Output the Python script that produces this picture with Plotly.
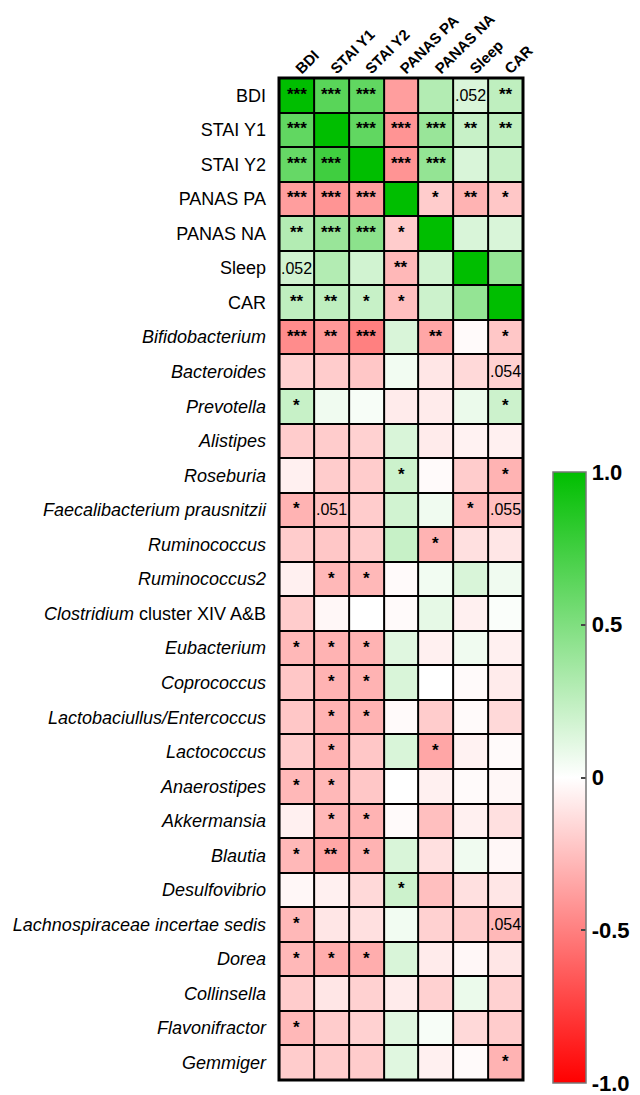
import plotly.graph_objects as go

# column / row names
cols = ['BDI', 'STAI Y1', 'STAI Y2', 'PANAS PA', 'PANAS NA', 'Sleep', 'CAR']
rows = ['BDI', 'STAI Y1', 'STAI Y2', 'PANAS PA', 'PANAS NA', 'Sleep', 'CAR',
        'Bifidobacterium', 'Bacteroides', 'Prevotella', 'Alistipes', 'Roseburia',
        'Faecalibacterium prausnitzii', 'Ruminococcus', 'Ruminococcus2',
        'Clostridium cluster XIV A&B', 'Eubacterium', 'Coprococcus',
        'Lactobaciullus/Entercoccus', 'Lactococcus', 'Anaerostipes', 'Akkermansia',
        'Blautia', 'Desulfovibrio', 'Lachnospiraceae incertae sedis', 'Dorea',
        'Collinsella', 'Flavonifractor', 'Gemmiger']
row_labels = ['BDI', 'STAI Y1', 'STAI Y2', 'PANAS PA', 'PANAS NA', 'Sleep', 'CAR',
              '<i>Bifidobacterium</i>', '<i>Bacteroides</i>', '<i>Prevotella</i>',
              '<i>Alistipes</i>', '<i>Roseburia</i>', '<i>Faecalibacterium prausnitzii</i>',
              '<i>Ruminococcus</i>', '<i>Ruminococcus2</i>',
              '<i>Clostridium</i> cluster XIV A&B', '<i>Eubacterium</i>',
              '<i>Coprococcus</i>', '<i>Lactobaciullus/Entercoccus</i>',
              '<i>Lactococcus</i>', '<i>Anaerostipes</i>', '<i>Akkermansia</i>',
              '<i>Blautia</i>', '<i>Desulfovibrio</i>',
              '<i>Lachnospiraceae incertae sedis</i>', '<i>Dorea</i>',
              '<i>Collinsella</i>', '<i>Flavonifractor</i>', '<i>Gemmiger</i>']

r = [
    [1.00, 0.65, 0.62, -0.38, 0.30, 0.15, 0.25],
    [0.62, 1.00, 0.62, -0.42, 0.40, 0.22, 0.25],
    [0.60, 0.75, 1.00, -0.42, 0.42, 0.15, 0.22],
    [-0.38, -0.42, -0.38, 1.00, -0.20, -0.30, -0.22],
    [0.30, 0.40, 0.45, -0.20, 1.00, 0.15, 0.15],
    [0.18, 0.30, 0.18, -0.28, 0.18, 1.00, 0.42],
    [0.25, 0.25, 0.22, -0.25, 0.20, 0.42, 1.00],
    [-0.45, -0.40, -0.50, 0.15, -0.35, -0.02, -0.22],
    [-0.18, -0.20, -0.22, 0.05, -0.10, -0.15, -0.18],
    [0.22, 0.06, 0.03, -0.08, -0.08, 0.08, 0.20],
    [-0.20, -0.20, -0.18, 0.15, -0.08, -0.05, -0.06],
    [-0.06, -0.20, -0.20, 0.20, -0.02, -0.20, -0.30],
    [-0.30, -0.25, -0.20, 0.18, 0.06, -0.28, -0.25],
    [-0.20, -0.22, -0.20, 0.22, -0.30, -0.12, -0.10],
    [-0.06, -0.28, -0.28, -0.02, 0.05, 0.15, 0.06],
    [-0.20, -0.03, 0.00, -0.02, 0.10, -0.06, 0.02],
    [-0.28, -0.30, -0.30, 0.12, -0.06, 0.06, -0.06],
    [-0.22, -0.30, -0.30, 0.15, 0.00, -0.02, -0.08],
    [-0.22, -0.30, -0.30, -0.02, -0.20, -0.02, -0.15],
    [-0.20, -0.30, -0.22, 0.15, -0.35, -0.05, -0.02],
    [-0.28, -0.28, -0.22, 0.00, -0.06, -0.02, -0.03],
    [-0.06, -0.28, -0.30, -0.02, -0.25, -0.06, -0.12],
    [-0.28, -0.35, -0.30, 0.15, -0.12, 0.06, -0.03],
    [-0.03, -0.06, -0.15, 0.20, -0.25, -0.12, -0.10],
    [-0.28, -0.10, -0.12, 0.05, -0.18, -0.20, -0.28],
    [-0.28, -0.32, -0.32, 0.15, -0.08, -0.03, -0.10],
    [-0.20, -0.10, -0.18, -0.08, -0.18, 0.08, -0.18],
    [-0.28, -0.20, -0.18, 0.12, 0.03, -0.15, -0.20],
    [-0.20, -0.20, -0.20, 0.12, -0.06, -0.02, -0.30],
]

# significance marks
sig = [
    ['***', '***', '***', '', '', '.052', '**'],
    ['***', '', '***', '***', '***', '**', '**'],
    ['***', '***', '', '***', '***', '', ''],
    ['***', '***', '***', '', '*', '**', '*'],
    ['**', '***', '***', '*', '', '', ''],
    ['.052', '', '', '**', '', '', ''],
    ['**', '**', '*', '*', '', '', ''],
    ['***', '**', '***', '', '**', '', '*'],
    ['', '', '', '', '', '', '.054'],
    ['*', '', '', '', '', '', '*'],
    ['', '', '', '', '', '', ''],
    ['', '', '', '*', '', '', '*'],
    ['*', '.051', '', '', '', '*', '.055'],
    ['', '', '', '', '*', '', ''],
    ['', '*', '*', '', '', '', ''],
    ['', '', '', '', '', '', ''],
    ['*', '*', '*', '', '', '', ''],
    ['', '*', '*', '', '', '', ''],
    ['', '*', '*', '', '', '', ''],
    ['', '*', '', '', '*', '', ''],
    ['*', '*', '', '', '', '', ''],
    ['', '*', '*', '', '', '', ''],
    ['*', '**', '*', '', '', '', ''],
    ['', '', '', '*', '', '', ''],
    ['*', '', '', '', '', '', '.054'],
    ['*', '*', '*', '', '', '', ''],
    ['', '', '', '', '', '', ''],
    ['*', '', '', '', '', '', ''],
    ['', '', '', '', '', '', '*'],
]

cb_vals = [1.0, 0.5, 0, -0.5, -1.0]
cb_text = ['1.0', '0.5', '0', '-0.5', '-1.0']

fig = go.Figure()
fig.add_trace(go.Heatmap(
    z=r, x=cols, y=rows,
    zmin=-1, zmax=1,
    colorscale=[[0, 'rgb(255,0,0)'], [0.5, 'rgb(255,255,255)'], [1, 'rgb(0,190,0)']],
    xgap=2, ygap=2,
    hoverinfo='skip',
    colorbar=dict(
        thicknessmode='pixels', thickness=33,
        lenmode='pixels', len=611,
        x=1.123, xanchor='left', xpad=0,
        y=-0.003, yanchor='bottom', ypad=0,
        outlinecolor='#777777', outlinewidth=1.5,
        tickvals=cb_vals, ticktext=cb_text,
        ticks='inside', ticklen=5, tickcolor='#444444', tickwidth=1.5,
        ticklabeloverflow='allow',
        tickfont=dict(family='Liberation Sans', size=22, color='black', weight='bold'),
    ),
))

for i, row in enumerate(rows):
    for j, col in enumerate(cols):
        s = sig[i][j]
        if s == '':
            continue
        if s.startswith('.'):
            fig.add_annotation(x=col, y=row, text=s, showarrow=False,
                               font=dict(family='Liberation Sans', size=16, color='black'))
        else:
            fig.add_annotation(x=col, y=row, text=s, showarrow=False, yshift=1,
                               font=dict(family='Liberation Sans', size=17, color='black',
                                         weight='bold'))

# outer border
fig.add_shape(type='rect', xref='paper', yref='paper', x0=0, y0=0, x1=1, y1=1,
              line=dict(color='black', width=3))

fig.update_xaxes(side='top', tickangle=-45, showgrid=False, zeroline=False,
                 ticks='', showline=False, ticklabelstandoff=-3,
                 tickfont=dict(family='Liberation Sans', size=15, color='black', weight='bold'))
fig.update_yaxes(autorange='reversed', showgrid=False, zeroline=False, ticks='',
                 showline=False, tickvals=rows, ticktext=row_labels,
                 ticklabelstandoff=12,
                 tickfont=dict(family='Liberation Sans', size=18, color='black'))

# page adds an 8px body margin, so the figure is drawn 8px smaller
fig.update_layout(
    width=632, height=1087,
    margin=dict(l=271, r=117, t=70, b=15, autoexpand=False),
    plot_bgcolor='black',
    paper_bgcolor='white',
    showlegend=False,
)

fig.write_html("out.html")
